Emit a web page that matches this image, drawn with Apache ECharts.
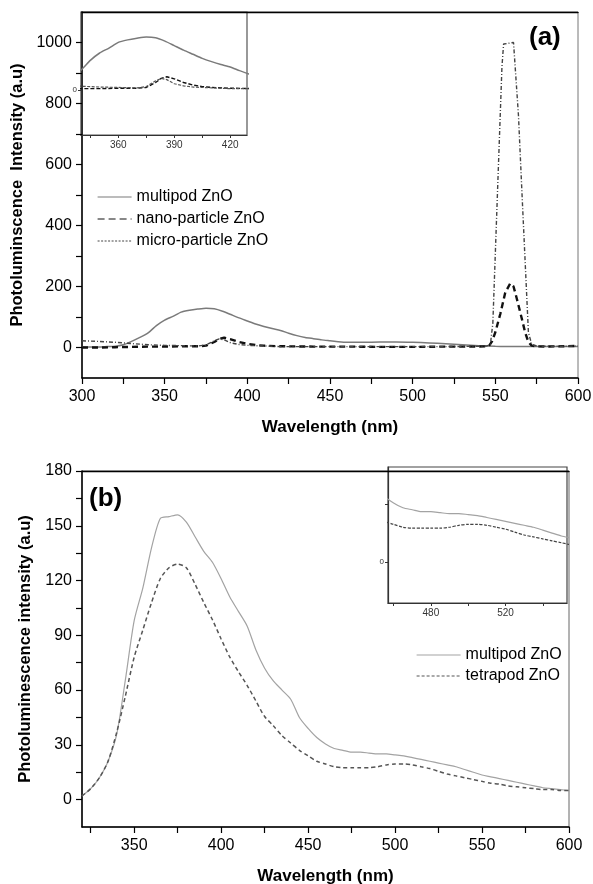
<!DOCTYPE html>
<html>
<head>
<meta charset="utf-8">
<script src="https://cdn.jsdelivr.net/npm/echarts@6.0.0/dist/echarts.min.js"></script>
<style>
  html, body { margin: 0; padding: 0; background: #fff; }
  #chart { width: 593px; height: 884px; }
</style>
</head>
<body>
<div id="chart"></div>
<script>
  // panel (a) : [wavelength (nm), intensity (a.u)]
  const multipodA = [
    [300, 2], [305, 2], [310, 2], [315, 3], [320, 4], [325, 9], [330, 20], [335, 33],
    [340, 48], [345, 72], [350, 90], [355, 102], [360, 116], [365, 122], [370, 126],
    [375, 129], [380, 127], [385, 119], [390, 108], [395, 97], [400, 87], [405, 77],
    [410, 69], [415, 62], [420, 56], [425, 47], [430, 39], [435, 33], [440, 29],
    [445, 25], [450, 22], [455, 19], [460, 17], [470, 17], [480, 18], [490, 18],
    [500, 17], [510, 15], [520, 12], [530, 9], [540, 6], [550, 4], [560, 3],
    [570, 3], [580, 3], [590, 3], [600, 3]
  ]
  const nanoA = [
    [300, 0], [310, 0], [320, 1], [330, 2], [340, 3], [350, 3], [360, 4], [370, 4],
    [375, 6], [380, 18], [383, 28], [386, 32], [390, 27], [395, 18], [400, 12],
    [405, 8], [410, 6], [420, 4], [440, 3], [460, 3], [480, 2], [500, 2], [520, 3],
    [540, 3], [546, 4], [548, 20], [550, 50], [553, 110], [556, 180], [559, 210],
    [561, 200], [563, 160], [566, 95], [568, 50], [570, 18], [572, 6], [575, 4],
    [580, 3], [590, 4], [600, 5]
  ]
  const microA = [
    [300, 22], [310, 20], [320, 17], [330, 13], [340, 9], [350, 7], [360, 6],
    [370, 5], [375, 8], [380, 22], [383, 28], [386, 25], [390, 15], [395, 10],
    [400, 7], [410, 5], [420, 3], [440, 3], [460, 3], [480, 3], [500, 3], [520, 3],
    [540, 4], [545, 5], [547, 10], [548.5, 80], [550, 310], [552, 615], [554, 920],
    [555, 995], [556, 1000], [561, 1000], [562, 995], [564, 760], [566, 520],
    [568, 285], [570, 50], [572, 10], [575, 5], [580, 4], [590, 4], [600, 5]
  ]

  // panel (b)
  const waveB = [
    320, 325, 330, 335, 340, 345, 350, 355, 360, 365, 370, 375, 380, 385, 390, 395,
    400, 405, 410, 415, 420, 425, 430, 435, 440, 445, 450, 455, 460, 465, 470, 475,
    480, 485, 490, 495, 500, 505, 510, 515, 520, 525, 530, 535, 540, 545, 550, 555,
    560, 565, 570, 575, 580, 585, 590, 595, 600
  ]
  const multipodB = [
    2, 6, 12, 21, 36, 66, 98, 116, 138, 154, 155, 156, 152, 144, 136, 130,
    121, 111, 103, 95, 82, 72, 65, 60, 55, 45, 39, 34, 30.5, 28, 27, 26,
    26, 25.5, 25, 25, 24.5, 24, 23, 22, 21, 20, 19, 18, 16.5, 15, 13.5, 12.5,
    11.5, 10.5, 9.5, 8.5, 7.5, 6.5, 6, 5.5, 5
  ]
  const tetrapodB = [
    2, 6, 12, 21, 37, 57, 78, 93, 108, 121, 127, 129, 127, 118, 108, 98.5,
    88, 78, 70, 62.5, 54, 45.5, 40.5, 35, 31, 27, 24, 21, 19.5, 18, 17.5, 17.5,
    17.5, 17.5, 18, 19, 19.5, 19.5, 19, 18, 17, 15.5, 14, 13, 12, 11, 10, 9,
    8.5, 7.5, 7, 6.5, 6, 5.5, 5.5, 5, 5
  ]

  // ticks and tick labels
  const xTicksA = [300, 325, 350, 375, 400, 425, 450, 475, 500, 525, 550, 575, 600]
  const xLabelsA = [300, 350, 400, 450, 500, 550, 600]
  const yTicksA = [0, 100, 200, 300, 400, 500, 600, 700, 800, 900, 1000]
  const yLabelsA = [0, 200, 400, 600, 800, 1000]
  const xTicksInA = [345, 360, 375, 390, 405, 420]
  const xLabelsInA = [360, 390, 420]
  const xTicksB = [325, 350, 375, 400, 425, 450, 475, 500, 525, 550, 575, 600]
  const xLabelsB = [350, 400, 450, 500, 550, 600]
  const yTicksB = [0, 15, 30, 45, 60, 75, 90, 105, 120, 135, 150, 165, 180]
  const yLabelsB = [0, 30, 60, 90, 120, 150, 180]
  const xTicksInB = [460, 480, 500, 520, 540]
  const xLabelsInB = [480, 520]
  const yTicksInB = [0, 30]

  const font = 'Liberation Sans, Arial, sans-serif'
  const plain = v => String(v)

  function mainX (grid, min, max, ticks, labels, name) {
    return {
      type: 'value', gridIndex: grid, min: min, max: max, position: 'bottom',
      name: name, nameLocation: 'middle', nameGap: 41,
      nameTextStyle: { fontFamily: font, fontSize: 17, fontWeight: 'bold', color: '#000' },
      axisLine: { show: true, onZero: false, lineStyle: { color: '#000', width: 1.5 } },
      axisTick: { show: true, inside: false, length: 6, customValues: ticks, lineStyle: { color: '#000', width: 1.2 } },
      axisLabel: { customValues: labels, formatter: plain, margin: 11, fontFamily: font, fontSize: 16, color: '#000' },
      splitLine: { show: false }
    }
  }
  function mainY (grid, min, max, ticks, labels, name, gap) {
    return {
      type: 'value', gridIndex: grid, min: min, max: max,
      name: name, nameLocation: 'middle', nameGap: gap,
      nameTextStyle: { fontFamily: font, fontSize: 16.5, fontWeight: 'bold', color: '#000' },
      axisLine: { show: true, onZero: false, lineStyle: { color: '#000', width: 1.5 } },
      axisTick: { show: true, inside: false, length: 6, customValues: ticks, lineStyle: { color: '#000', width: 1.2 } },
      axisLabel: { customValues: labels, formatter: plain, margin: 10, fontFamily: font, fontSize: 16, color: '#000' },
      splitLine: { show: false }
    }
  }
  function topLine (grid, min, max) {
    return {
      type: 'value', gridIndex: grid, min: min, max: max, position: 'top',
      axisLine: { show: true, onZero: false, lineStyle: { color: '#000', width: 1.3 } },
      axisTick: { show: false }, axisLabel: { show: false }, splitLine: { show: false }
    }
  }
  function insetX (grid, min, max, ticks, labels) {
    return {
      type: 'value', gridIndex: grid, min: min, max: max,
      axisLine: { show: true, onZero: false, lineStyle: { color: '#333', width: 1.2 } },
      axisTick: { show: true, length: 3, customValues: ticks, lineStyle: { color: '#333' } },
      axisLabel: { customValues: labels, formatter: plain, margin: 5, fontFamily: font, fontSize: 10, color: '#333' },
      splitLine: { show: false }
    }
  }
  function insetY (grid, min, max, ticks) {
    return {
      type: 'value', gridIndex: grid, min: min, max: max,
      axisLine: { show: true, onZero: false, lineStyle: { color: '#333', width: 1.2 } },
      axisTick: { show: true, length: 3, customValues: ticks, lineStyle: { color: '#333' } },
      axisLabel: { customValues: [0], formatter: plain, margin: 4, fontFamily: font, fontSize: 8, color: '#333' },
      splitLine: { show: false }
    }
  }

  const multipodStyleA = { color: '#7a7a7a', width: 1.5, type: 'solid' }
  const nanoStyleA = { color: '#111', width: 2.4, type: [6, 4] }
  const microStyleA = { color: '#444', width: 1.4, type: [4, 2, 1, 2] }
  const multipodStyleB = { color: '#a3a3a3', width: 1.2, type: 'solid' }
  const tetrapodStyleB = { color: '#555', width: 1.5, type: [4, 3] }

  function line (name, data, xi, yi, style, smooth) {
    return {
      type: 'line', name: name, data: data, xAxisIndex: xi, yAxisIndex: yi,
      symbol: 'none', showSymbol: false, smooth: smooth || false, clip: true,
      lineStyle: style, itemStyle: { color: style.color }, z: 3
    }
  }

  const dataB = (vals) => waveB.map((w, i) => [w, vals[i]])

  const legendText = { fontFamily: font, fontSize: 16, color: '#000' }

  const mychart = echarts.init(document.getElementById('chart'))
  const options = {
    animation: false,
    backgroundColor: '#fff',
    title: [
      { text: '(a)', left: 529, top: 25, padding: 0, textStyle: { fontFamily: font, fontSize: 26, fontWeight: 'bold', color: '#000' } },
      { text: '(b)', left: 89, top: 486, padding: 0, textStyle: { fontFamily: font, fontSize: 26, fontWeight: 'bold', color: '#000' } }
    ],
    grid: [
      { left: 82, top: 12, width: 496, height: 366, show: true, borderColor: '#777', borderWidth: 1, outerBoundsMode: 'none', containLabel: false },
      { left: 81, top: 12, width: 166, height: 123, show: true, borderColor: '#555', borderWidth: 1.2, outerBoundsMode: 'none', containLabel: false },
      { left: 82, top: 471, width: 487, height: 356, show: true, borderColor: '#666', borderWidth: 1, outerBoundsMode: 'none', containLabel: false },
      { left: 388, top: 467, width: 179, height: 136, show: true, borderColor: '#444', borderWidth: 1.2, outerBoundsMode: 'none', containLabel: false }
    ],
    legend: [
      {
        orient: 'vertical', left: 92, top: 184, itemWidth: 34, itemHeight: 12, itemGap: 6,
        itemStyle: { opacity: 0 },
        textStyle: legendText,
        data: [
          { name: 'multipod ZnO', lineStyle: { width: 1.2 } },
          { name: 'nano-particle ZnO', lineStyle: { width: 1, type: [7, 4] } },
          { name: 'micro-particle ZnO', lineStyle: { width: 1, type: [2, 1.5] } }
        ]
      },
      {
        orient: 'vertical', left: 411, top: 642, itemWidth: 44, itemHeight: 12, itemGap: 5,
        itemStyle: { opacity: 0 },
        textStyle: legendText,
        data: [
          { name: 'multipod ZnO', lineStyle: { color: '#a3a3a3', width: 1.2 } },
          { name: 'tetrapod ZnO', lineStyle: { width: 1.2, type: [3, 2] } }
        ]
      }
    ],
    xAxis: [
      mainX(0, 300, 600, xTicksA, xLabelsA, 'Wavelength (nm)'),
      topLine(0, 300, 600),
      insetX(1, 340, 429, xTicksInA, xLabelsInA),
      mainX(2, 320, 600, xTicksB, xLabelsB, 'Wavelength (nm)'),
      topLine(2, 320, 600),
      insetX(3, 457, 553, xTicksInB, xLabelsInB)
    ],
    yAxis: [
      mainY(0, -100, 1100, yTicksA, yLabelsA, 'Photoluminscence  Intensity (a.u)', 47),
      insetY(1, -110, 190, [0]),
      mainY(2, -15, 180, yTicksB, yLabelsB, 'Photoluminescence intensity (a.u)', 46),
      insetY(3, -21, 49, yTicksInB)
    ],
    series: [
      line('multipod ZnO', multipodA, 0, 0, multipodStyleA, 0.2),
      line('nano-particle ZnO', nanoA, 0, 0, nanoStyleA),
      line('micro-particle ZnO', microA, 0, 0, microStyleA),
      line('multipod ZnO', multipodA, 2, 1, multipodStyleA, 0.2),
      line('nano-particle ZnO', nanoA, 2, 1, { color: '#111', width: 1.4, type: [4, 2] }),
      line('micro-particle ZnO', microA, 2, 1, { color: '#555', width: 1.2, type: [3, 1.5] }),
      line('multipod ZnO', dataB(multipodB), 3, 2, multipodStyleB, 0.25),
      line('tetrapod ZnO', dataB(tetrapodB), 3, 2, tetrapodStyleB, 0.25),
      line('multipod ZnO', dataB(multipodB), 5, 3, multipodStyleB, 0.25),
      line('tetrapod ZnO', dataB(tetrapodB), 5, 3, { color: '#444', width: 1.2, type: [3, 1.5] }, 0.25)
    ]
  }
  mychart.setOption(options)
</script>
</body>
</html>
